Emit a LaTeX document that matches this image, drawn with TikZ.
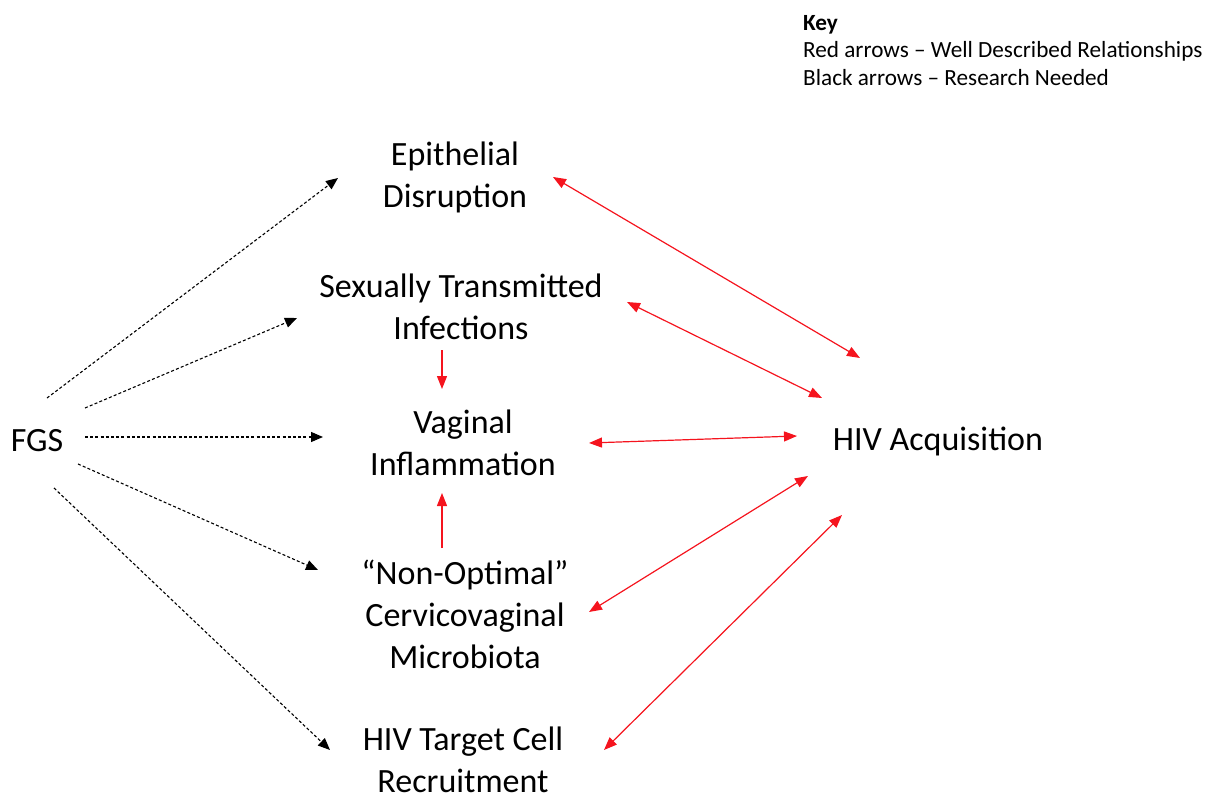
\documentclass[tikz,border=0pt]{standalone}
\usepackage{fontspec}
\setmainfont{Carlito}
\usetikzlibrary{arrows.meta,calc}
\definecolor{arrowred}{RGB}{245,20,30}
\tikzset{
  lbl/.style={align=center,inner sep=0pt,font=\fontsize{34}{42}\selectfont},
  keytxt/.style={align=left,inner sep=0pt,anchor=north west,font=\fontsize{23.2}{27.5}\selectfont},
  blk/.style={draw=black,line width=1.1pt,dash pattern=on 3pt off 2.2pt,-{Triangle[length=12pt,width=10pt]}},
  redline/.style={draw=arrowred,line width=1.2pt,{Triangle[length=13pt,width=10pt]}-{Triangle[length=13pt,width=10pt]}},
  redone/.style={draw=arrowred,line width=1.2pt,-{Triangle[length=13pt,width=10pt]}}
}
\begin{document}
\begin{tikzpicture}[x=1pt,y=-1pt]
\useasboundingbox (0,0) rectangle (1210,794);
\node[lbl] (fgs) at (37,441) {FGS};
\node[lbl] (epi) at (455,177) {Epithelial\\Disruption};
\node[lbl] (sti) at (461,307) {Sexually Transmitted\\Infections};
\node[lbl] (vag) at (463,443) {Vaginal\\Inflammation};
\node[lbl] (mic) at (465,614) {``Non-Optimal''\\Cervicovaginal\\Microbiota};
\node[lbl] (tgt) at (463,760) {HIV Target Cell\\Recruitment};
\node[lbl] (hiv) at (938,441) {HIV Acquisition};
\node[keytxt] (key) at (803,15) {\textbf{Key}\\Red arrows -- Well Described Relationships\\Black arrows -- Research Needed};
% black dashed arrows
\draw[blk] ($(fgs)+(10,-43)$) -- ($(epi)+(-117,1)$);
\draw[blk] ($(fgs)+(48,-33)$) -- ($(sti)+(-164,11)$);
\draw[blk] ($(fgs)+(48,-4)$) -- ($(vag)+(-140,-6)$);
\draw[blk] ($(fgs)+(41,23)$) -- ($(mic)+(-147,-44)$);
\draw[blk] ($(fgs)+(17,47)$) -- ($(tgt)+(-133,-10)$);
% red arrows
\draw[redline] ($(epi)+(98,0)$) -- ($(hiv)+(-78,-83)$);
\draw[redline] ($(sti)+(166,-5)$) -- ($(hiv)+(-116,-43)$);
\draw[redline] ($(vag)+(126,0)$) -- ($(hiv)+(-141,-5)$);
\draw[redline] ($(mic)+(124,-2)$) -- ($(hiv)+(-130,35)$);
\draw[redline] ($(tgt)+(141,-10)$) -- ($(hiv)+(-96,74)$);
\draw[redone] ($(sti)+(-19,43)$) -- ($(vag)+(-21,-54)$);
\draw[redone] ($(mic)+(-23,-66)$) -- ($(vag)+(-21,50)$);
\end{tikzpicture}
\end{document}
